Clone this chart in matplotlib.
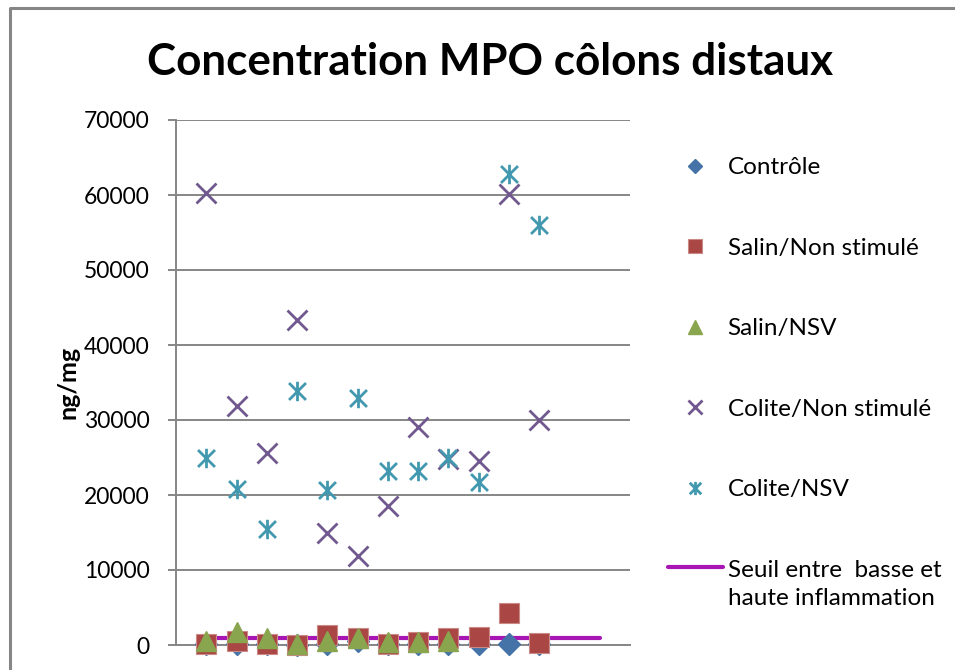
import numpy as np
import matplotlib.pyplot as plt
from matplotlib.lines import Line2D
from matplotlib.path import Path
from matplotlib.legend_handler import HandlerLine2D

plt.rcParams['font.family'] = ['Lato', 'DejaVu Sans']

# MPO concentration per animal (ng/mg)
animals = np.arange(1, 13)
controle = [100, 200, 100, 50, 100, 500, 100, 200, 200, 100, 200, 200]
salin_ns = [200, 500, 200, 0, 1400, 900, 200, 400, 900, 1100, 4300, 300]
salin_nsv = [500, 1800, 900, 200, 500, 1000, 350, 400, 600]
colite_ns = [60300, 31900, 25600, 43400, 15000, 11900, 18600, 29100,
             24800, 24600, 60100, 30000]
colite_nsv = [24900, 20800, 15500, 33900, 20700, 33000, 23200, 23200,
              25000, 21700, 62800, 56000]
seuil_x = [1, 14]
seuil_y = [1000, 1000]

grey = '#868686'

# Excel-style asterisk: an x with a vertical bar through it
star = Path([(-1, -1), (1, 1), (-1, 1), (1, -1), (0, -1.15), (0, 1.15)],
            [Path.MOVETO, Path.LINETO, Path.MOVETO, Path.LINETO,
             Path.MOVETO, Path.LINETO])


class FirstLineHandler(HandlerLine2D):
    """Put the legend line level with the first row of a two-line label."""
    def create_artists(self, legend, orig_handle, xdescent, ydescent,
                       width, height, fontsize, trans):
        return super().create_artists(legend, orig_handle, xdescent, ydescent,
                                      width, height + 1.45 * fontsize,
                                      fontsize, trans)


fig = plt.figure(figsize=(9.55, 6.70), dpi=100)
ax = fig.add_axes([176 / 955, 1 - 645 / 670, (630 - 176) / 955, (645 - 120) / 670])

seuil, = ax.plot(seuil_x, seuil_y, color='#A815B5', lw=3, solid_capstyle='round',
                 label='Seuil entre  basse et\nhaute inflammation', zorder=2)
ax.plot(animals, controle, ls='none', marker='D', ms=11, color='#4572A7',
        label='Contrôle', clip_on=False, zorder=3)
ax.plot(animals, salin_ns, ls='none', marker='s', ms=15, color='#AA4643',
        mec='#C98A88', mew=0.8, label='Salin/Non stimulé', clip_on=False, zorder=4)
ax.plot(animals[:len(salin_nsv)], salin_nsv, ls='none', marker='^', ms=15,
        color='#89A54E', label='Salin/NSV', clip_on=False, zorder=5)
ax.plot(animals, colite_ns, ls='none', marker='x', ms=14, mew=2,
        color='#71588F', label='Colite/Non stimulé', zorder=6)
ax.plot(animals, colite_nsv, ls='none', marker=star, ms=14, mew=2,
        color='#4198AF', label='Colite/NSV', zorder=7)

ax.set_xlim(0, 15)
ax.set_ylim(0, 70000)
ax.set_yticks(np.arange(0, 70001, 10000))
ax.set_xticks([])
ax.grid(axis='y', color=grey, lw=1.4)
ax.set_axisbelow(True)
for side in ['top', 'right']:
    ax.spines[side].set_visible(False)
for side in ['left', 'bottom']:
    ax.spines[side].set_color(grey)
    ax.spines[side].set_linewidth(1.4)
ax.tick_params(axis='y', length=6, width=1.4, color=grey, labelsize=16.5, pad=13)
ax.set_ylabel('ng/mg', fontsize=18, fontweight='bold', labelpad=3)

fig.text(490 / 955, 1 - 62 / 670, 'Concentration MPO côlons distaux',
         ha='center', va='center', fontsize=31.7, fontweight='bold')

# legend order as in the workbook
handles, labels = ax.get_legend_handles_labels()
order = [1, 2, 3, 4, 5, 0]
leg = ax.legend([handles[i] for i in order], [labels[i] for i in order],
                loc='upper left', bbox_to_anchor=(668 / 955, 1 - 157 / 670),
                bbox_transform=fig.transFigure, frameon=False, fontsize=17.5,
                markerscale=0.68, handlelength=2.25, handletextpad=0.2,
                labelspacing=2.45, borderpad=0, borderaxespad=0,
                handler_map={seuil: FirstLineHandler()})
for t in leg.get_texts():
    t.set_linespacing(1.45)

# chart frame (left and top edges)
fig.add_artist(Line2D([9.5 / 955, 9.5 / 955, 1], [0, 1 - 7.5 / 670, 1 - 7.5 / 670],
                      color=grey, lw=2.2, transform=fig.transFigure))

fig.savefig('out.png', dpi=100)
